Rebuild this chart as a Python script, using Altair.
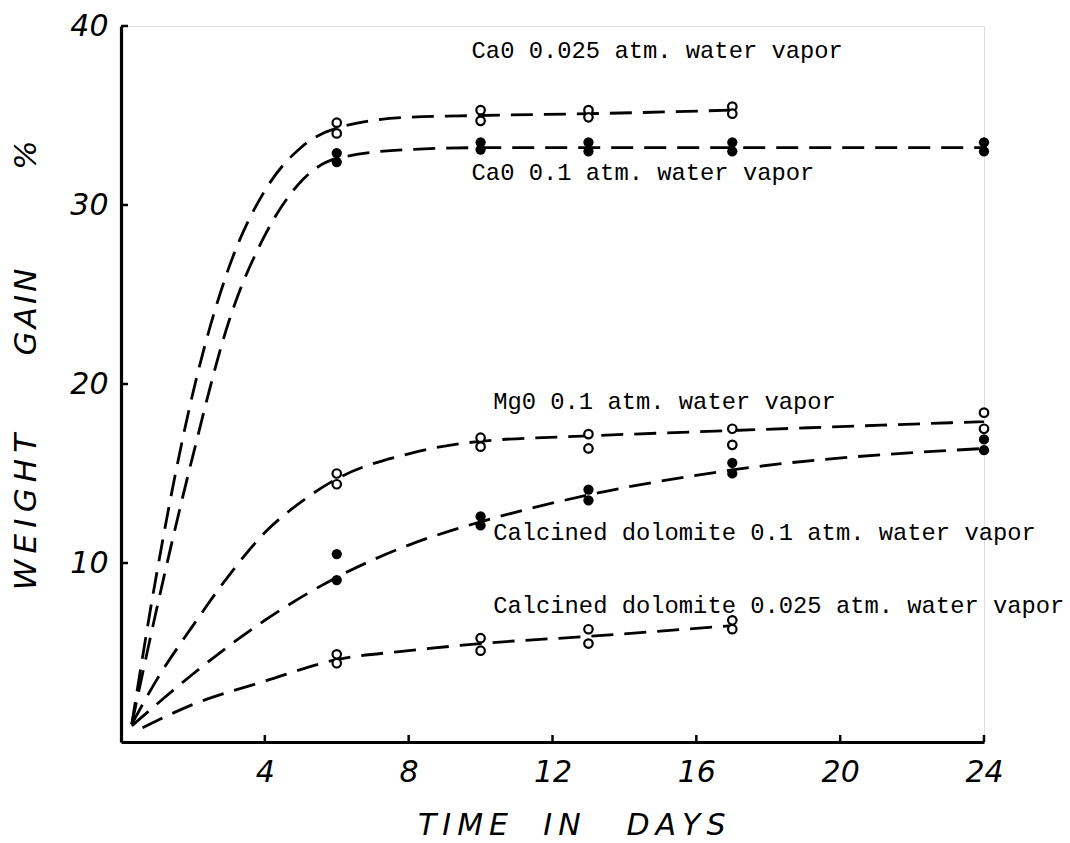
import altair as alt
import pandas as pd

# Observed weight gain (%) at each sampling day, two replicate samples per day
cao_low_days = [6, 6, 10, 10, 13, 13, 17, 17]
cao_low_gain = [34.6, 34.0, 35.3, 34.7, 35.3, 34.9, 35.5, 35.1]

cao_high_days = [6, 6, 10, 10, 13, 13, 17, 17, 24, 24]
cao_high_gain = [32.9, 32.4, 33.5, 33.1, 33.5, 33.0, 33.5, 33.0, 33.5, 33.0]

mgo_days = [6, 6, 10, 10, 13, 13, 17, 17, 24, 24]
mgo_gain = [15.0, 14.4, 17.0, 16.5, 17.2, 16.4, 17.5, 16.6, 18.4, 17.5]

dol_high_days = [6, 6, 10, 10, 13, 13, 17, 17, 24, 24]
dol_high_gain = [10.5, 9.05, 12.6, 12.1, 14.1, 13.5, 15.6, 15.0, 16.9, 16.3]

dol_low_days = [6, 6, 10, 10, 13, 13, 17, 17]
dol_low_gain = [4.9, 4.4, 5.8, 5.1, 6.3, 5.5, 6.8, 6.3]

# Hand-fitted trend curves drawn through the observations
cao_low_curve_days = [0.3, 1, 2, 3, 4, 5, 6, 8, 10, 13, 17]
cao_low_curve_gain = [1.0, 9.5, 19.5, 26.5, 30.8, 33.2, 34.3, 34.9, 35.0, 35.1, 35.3]

cao_high_curve_days = [0.3, 1, 2, 3, 4, 5, 6, 8, 10, 13, 17, 24]
cao_high_curve_gain = [1.0, 7.5, 16.0, 23.5, 28.3, 31.3, 32.6, 33.1, 33.2, 33.2, 33.2, 33.2]

mgo_curve_days = [0.3, 1, 2, 3, 4, 5, 6, 8, 10, 13, 17, 24]
mgo_curve_gain = [1.0, 3.5, 6.5, 9.3, 11.7, 13.4, 14.7, 16.1, 16.8, 17.1, 17.4, 17.9]

dol_high_curve_days = [0.3, 2, 4, 6, 8, 10, 13, 17, 24]
dol_high_curve_gain = [0.9, 3.8, 6.8, 9.2, 11.0, 12.3, 13.8, 15.2, 16.4]

dol_low_curve_days = [0.6, 2, 4, 6, 8, 10, 13, 17]
dol_low_curve_gain = [0.8, 2.1, 3.4, 4.6, 5.1, 5.5, 5.9, 6.5]

# Curve labels and where they sit (day, % gain at left edge of text)
label_text = [
    "Ca0 0.025 atm. water vapor",
    "Ca0 0.1 atm. water vapor",
    "Mg0 0.1 atm. water vapor",
    "Calcined dolomite 0.1 atm. water vapor",
    "Calcined dolomite 0.025 atm. water vapor",
]
label_day = [9.75, 9.75, 10.35, 10.35, 10.35]
label_gain = [38.6, 31.8, 19.0, 11.7, 7.6]

x_ticks = [4, 8, 12, 16, 20, 24]
y_ticks = [10, 20, 30, 40]

W, H = 863, 716
THIN = "\u2009"

def spaced(word):
    return THIN.join(word)

def frame(days, gain, name):
    return pd.DataFrame({"day": days, "gain": gain, "series": name})

open_pts = pd.concat([
    frame(cao_low_days, cao_low_gain, "cao_low"),
    frame(mgo_days, mgo_gain, "mgo"),
    frame(dol_low_days, dol_low_gain, "dol_low"),
])
filled_pts = pd.concat([
    frame(cao_high_days, cao_high_gain, "cao_high"),
    frame(dol_high_days, dol_high_gain, "dol_high"),
])
curves = pd.concat([
    frame(cao_low_curve_days, cao_low_curve_gain, "cao_low"),
    frame(cao_high_curve_days, cao_high_curve_gain, "cao_high"),
    frame(mgo_curve_days, mgo_curve_gain, "mgo"),
    frame(dol_high_curve_days, dol_high_curve_gain, "dol_high"),
    frame(dol_low_curve_days, dol_low_curve_gain, "dol_low"),
])
labels = pd.DataFrame({"text": label_text, "day": label_day, "gain": label_gain})

xs = alt.Scale(domain=[0, 24], nice=False)
ys = alt.Scale(domain=[0, 40], nice=False)

axis_font = dict(labelFont="DejaVu Sans", labelFontStyle="italic", labelFontSize=30,
                 labelColor="black", ticks=False, grid=False, domainColor="black",
                 domainWidth=3.2, title=None, labelFlush=False, labelOverlap=False)

x_enc = alt.X("day:Q", scale=xs, axis=alt.Axis(values=x_ticks, labelPadding=15, **axis_font))
y_enc = alt.Y("gain:Q", scale=ys, axis=alt.Axis(values=y_ticks, labelPadding=13, **axis_font))

lines = alt.Chart(curves).mark_line(
    color="black", strokeWidth=2.8, strokeDash=[22, 11], interpolate="monotone"
).encode(x=x_enc, y=y_enc, detail="series:N")

open_marks = alt.Chart(open_pts).mark_point(
    shape="circle", filled=True, fill="white", stroke="black", strokeWidth=2.2, size=72, opacity=1
).encode(x="day:Q", y="gain:Q")

filled_marks = alt.Chart(filled_pts).mark_circle(color="black", size=105, opacity=1).encode(
    x="day:Q", y="gain:Q")

texts = alt.Chart(labels).mark_text(
    font="Liberation Mono", fontSize=23.8, align="left", baseline="middle", color="black"
).encode(x="day:Q", y="gain:Q", text="text:N")

x_tick_marks = alt.Chart(pd.DataFrame({"day": x_ticks})).mark_rule(
    color="black", strokeWidth=2.5
).encode(x="day:Q", y=alt.value(H), y2=alt.value(H - 7))

y_tick_marks = alt.Chart(pd.DataFrame({"gain": y_ticks})).mark_rule(
    color="black", strokeWidth=2.5
).encode(y="gain:Q", x=alt.value(0), x2=alt.value(7))

title_words = pd.DataFrame({
    "word": [spaced("TIME"), spaced("IN"), spaced("DAYS")],
    "px": [342, 441, 555],
})
x_title = alt.Chart(title_words).mark_text(
    font="DejaVu Sans", fontStyle="italic", fontSize=30, color="black", baseline="middle"
).encode(x=alt.X("px:Q", scale=None), y=alt.value(H + 84), text="word:N")

y_words = pd.DataFrame({
    "word": [spaced("WEIGHT"), "G\u200aA\u200aI\u200aN", "%"],
    "py": [486, 286, 129],
})
y_title = alt.Chart(y_words).mark_text(
    font="DejaVu Sans", fontStyle="italic", fontSize=31, color="black", angle=270,
    baseline="middle"
).encode(x=alt.value(-94), y=alt.Y("py:Q", scale=None), text="word:N")

chart = alt.layer(
    lines, open_marks, filled_marks, texts, x_tick_marks, y_tick_marks, x_title, y_title
).properties(
    width=W, height=H,
    autosize=alt.AutoSizeParams(type="none"),
    padding={"left": 121, "top": 26, "right": 86, "bottom": 101},
).configure_view(stroke=None).configure(background="white")

chart.save("out.html", embed_options={"renderer": "svg", "actions": False})
